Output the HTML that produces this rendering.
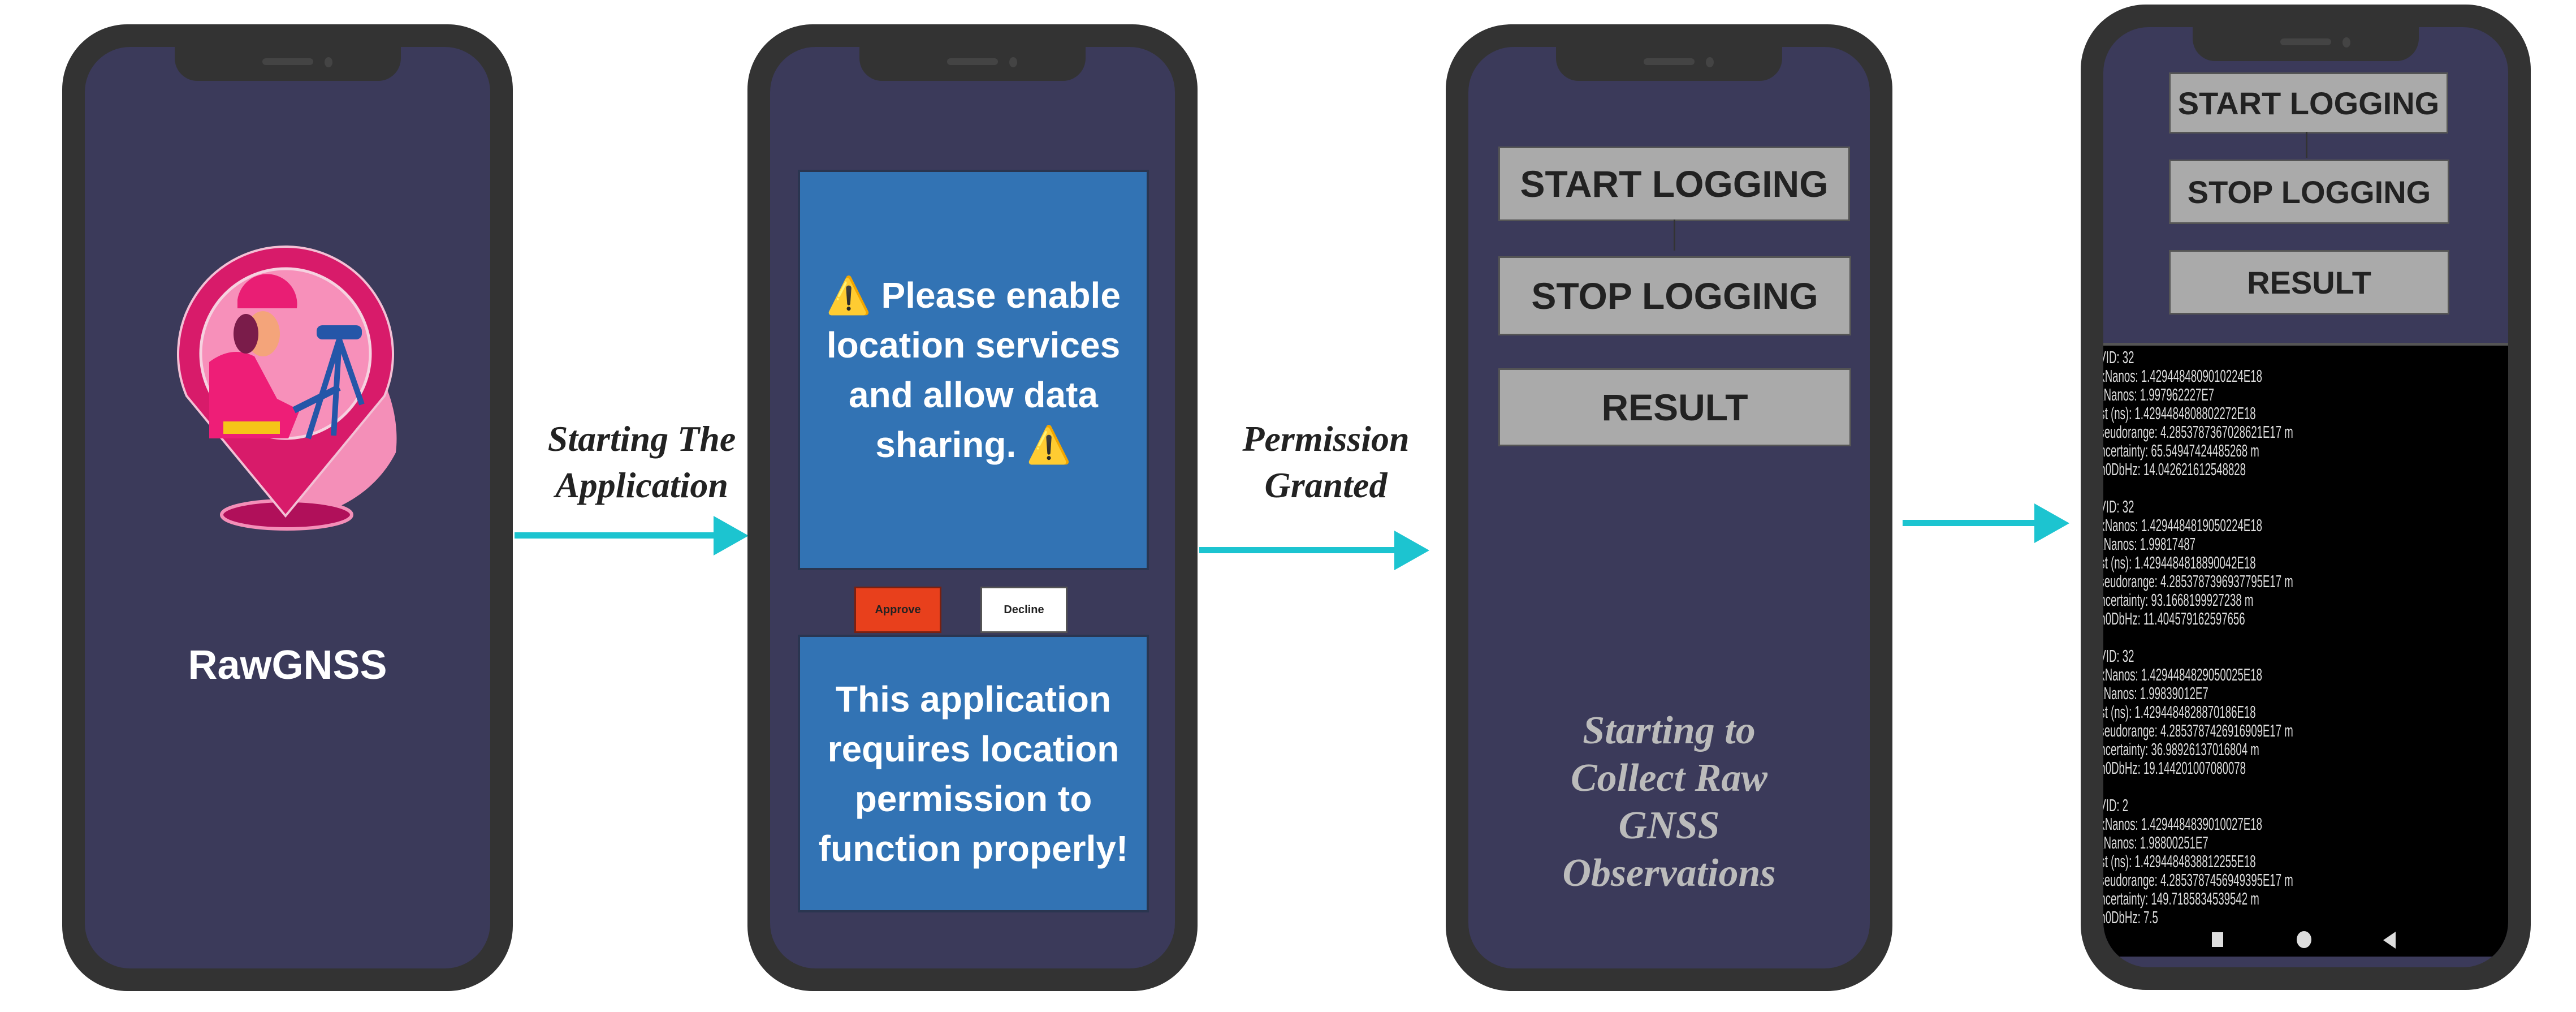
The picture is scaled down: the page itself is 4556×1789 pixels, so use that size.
<!DOCTYPE html>
<html><head><meta charset="utf-8"><style>
body{margin:0;width:4556px;height:1789px;background:#fff;position:relative;overflow:hidden;font-family:"Liberation Sans",sans-serif}
.a{position:absolute}
.ph{position:absolute;background:#333;border-radius:115px}
.sc{position:absolute;left:40px;right:40px;top:40px;bottom:40px;background:#3b3a5a;border-radius:80px;overflow:hidden}
.notch{position:absolute;top:0;height:60px;width:400px;left:50%;margin-left:-200px;background:#333;border-radius:0 0 40px 40px}
.notch:before{content:"";position:absolute;left:155px;top:20px;width:90px;height:12px;background:#444;border-radius:6px}
.notch:after{content:"";position:absolute;left:265px;top:18px;width:14px;height:18px;background:#444;border-radius:50%}
.blue{position:absolute;background:#3273b4;border:4px solid #2a3550;color:#fff;font-weight:bold;font-size:64px;line-height:88px;text-align:center;display:flex;align-items:center;justify-content:center;font-family:"Liberation Sans",sans-serif}
.btn{position:absolute;background:#aaaaaa;border:3px solid #555;color:#222;font-weight:bold;text-align:center;display:flex;align-items:center;justify-content:center}
.lbl{position:absolute;font-family:"Liberation Serif",serif;font-style:italic;font-weight:bold;font-size:64px;line-height:82px;text-align:center;color:#222}
.log{position:absolute;left:3700px;top:615px;width:740px;height:1045px;overflow:hidden;color:#ddd;font-size:31px;line-height:33px;white-space:pre}
.log div{transform:scaleX(0.6);transform-origin:0 0}
</style></head><body>

<!-- Phone 1 -->
<div class="ph" style="left:110px;top:43px;width:797px;height:1709px"><div class="sc"><div class="notch"></div></div></div>
<svg class="a" style="left:280px;top:400px" width="460" height="560" viewBox="280 400 460 560">
<path d="M570 560 C670 610 710 720 700 800 C660 880 570 920 510 912 Z" fill="#f48fb8"/>
<ellipse cx="507" cy="910" rx="115" ry="25" fill="#b0105a" stroke="#f48fb8" stroke-width="6"/>
<path d="M330 700 A190 190 0 1 1 680 700 L505 912 Z" fill="#d81b6a" stroke="#f3c0d5" stroke-width="4"/>
<circle cx="505" cy="625" r="150" fill="#f790ba" stroke="#f6d2e0" stroke-width="5"/>
<path d="M370 775 L370 640 Q410 610 450 630 L490 705 L530 725 L510 775 Z" fill="#ee1e77"/>
<rect x="395" y="745" width="100" height="22" fill="#f5c518"/>
<path d="M420 530 A48 48 0 0 1 525 545 L420 545 Z" fill="#e91e74"/>
<ellipse cx="465" cy="590" rx="30" ry="40" fill="#f4a47a"/>
<ellipse cx="435" cy="590" rx="22" ry="35" fill="#7a1c4a"/>
<rect x="560" y="575" width="80" height="25" rx="10" fill="#2556a8"/>
<path d="M600 600 L545 775 M600 600 L590 770 M600 600 L640 715" stroke="#2556a8" stroke-width="10"/>
<path d="M520 725 L600 685" stroke="#2556a8" stroke-width="12"/>
</svg>
<div class="a" style="left:110px;width:797px;top:1135px;text-align:center;color:#fff;font-weight:bold;font-size:72px">RawGNSS</div>

<!-- Arrow 1 -->
<div class="a" style="left:910px;top:941px;width:360px;height:11px;background:#1cc4d0"></div>
<svg class="a" style="left:1262px;top:912px" width="62" height="70"><polygon points="0,0 62,35 0,70" fill="#1cc4d0"/></svg>
<div class="lbl" style="left:930px;width:410px;top:735px">Starting The<br>Application</div>

<!-- Phone 2 -->
<div class="ph" style="left:1322px;top:43px;width:796px;height:1709px"><div class="sc"><div class="notch"></div></div></div>
<div class="blue" style="left:1411px;top:300px;width:613px;height:700px"><div>⚠️ Please enable<br>location services<br>and allow data<br>sharing. ⚠️</div></div>
<div class="a" style="left:1511px;top:1037px;width:148px;height:76px;background:#e8401c;border:3px solid #7a2010;color:#222;font-size:20px;font-weight:bold;display:flex;align-items:center;justify-content:center">Approve</div>
<div class="a" style="left:1734px;top:1037px;width:148px;height:76px;background:#fff;border:3px solid #555;color:#222;font-size:20px;font-weight:bold;display:flex;align-items:center;justify-content:center">Decline</div>
<div class="blue" style="left:1411px;top:1122px;width:613px;height:483px"><div>This application<br>requires location<br>permission to<br>function properly!</div></div>

<!-- Arrow 2 -->
<div class="a" style="left:2121px;top:967px;width:350px;height:11px;background:#1cc4d0"></div>
<svg class="a" style="left:2466px;top:938px" width="62" height="70"><polygon points="0,0 62,35 0,70" fill="#1cc4d0"/></svg>
<div class="lbl" style="left:2140px;width:410px;top:735px">Permission<br>Granted</div>

<!-- Phone 3 -->
<div class="ph" style="left:2557px;top:43px;width:790px;height:1709px"><div class="sc"><div class="notch"></div></div></div>
<div class="btn" style="left:2650px;top:259px;width:616px;height:126px;font-size:66px">START LOGGING</div>
<div class="a" style="left:2960px;top:388px;width:3px;height:55px;background:#333"></div>
<div class="btn" style="left:2650px;top:453px;width:618px;height:134px;font-size:66px">STOP LOGGING</div>
<div class="btn" style="left:2650px;top:651px;width:618px;height:132px;font-size:66px">RESULT</div>
<div class="lbl" style="left:2557px;width:790px;top:1250px;color:#bbb;font-size:70px;line-height:84px">Starting to<br>Collect Raw<br>GNSS<br>Observations</div>

<!-- Arrow 3 -->
<div class="a" style="left:3365px;top:919px;width:240px;height:11px;background:#1cc4d0"></div>
<svg class="a" style="left:3598px;top:890px" width="62" height="70"><polygon points="0,0 62,35 0,70" fill="#1cc4d0"/></svg>

<!-- Phone 4 -->
<div class="ph" style="left:3680px;top:8px;width:796px;height:1742px"><div class="sc"><div class="notch"></div>
<div class="a" style="left:0;right:0;top:558px;height:1080px;background:#000;border-top:5px solid #555"></div></div></div>
<div class="btn" style="left:3836px;top:128px;width:488px;height:102px;font-size:56px">START LOGGING</div>
<div class="a" style="left:4078px;top:233px;width:3px;height:46px;background:#333"></div>
<div class="btn" style="left:3836px;top:282px;width:490px;height:108px;font-size:56px">STOP LOGGING</div>
<div class="btn" style="left:3836px;top:442px;width:490px;height:108px;font-size:56px">RESULT</div>
<div class="log" style="clip-path:inset(0 0 0 20px)"><div>SVID: 32
RxNanos: 1.4294484809010224E18
TxNanos: 1.997962227E7
Rst (ns): 1.4294484808802272E18
Pseudorange: 4.2853787367028621E17 m
Uncertainty: 65.54947424485268 m
Cn0DbHz: 14.042621612548828

SVID: 32
RxNanos: 1.4294484819050224E18
TxNanos: 1.99817487
Rst (ns): 1.4294484818890042E18
Pseudorange: 4.2853787396937795E17 m
Uncertainty: 93.1668199927238 m
Cn0DbHz: 11.404579162597656

SVID: 32
RxNanos: 1.4294484829050025E18
TxNanos: 1.99839012E7
Rst (ns): 1.4294484828870186E18
Pseudorange: 4.2853787426916909E17 m
Uncertainty: 36.98926137016804 m
Cn0DbHz: 19.144201007080078

SVID: 2
RxNanos: 1.4294484839010027E18
TxNanos: 1.98800251E7
Rst (ns): 1.4294484838812255E18
Pseudorange: 4.2853787456949395E17 m
Uncertainty: 149.7185834539542 m
Cn0DbHz: 7.5</div></div>
<div class="a" style="left:3912px;top:1648px;width:20px;height:26px;background:#ddd"></div>
<div class="a" style="left:4062px;top:1646px;width:26px;height:30px;background:#ddd;border-radius:50%"></div>
<svg class="a" style="left:4215px;top:1647px" width="22" height="30"><polygon points="22,0 0,15 22,30" fill="#ddd"/></svg>
</body></html>
